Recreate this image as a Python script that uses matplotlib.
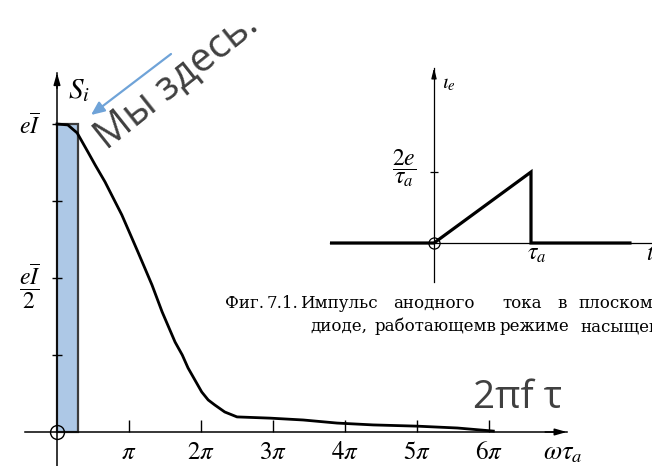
import matplotlib.pyplot as plt
import numpy as np

plt.rcParams['mathtext.fontset'] = 'stix'
plt.rcParams['font.family'] = ['DejaVu Sans']

# спектр S_i (x в единицах pi, y в единицах eI)
wt = [0, 0.15, 0.28, 0.43, 0.53, 0.667, 0.78, 0.90, 1.01, 1.125, 1.22, 1.32, 1.46, 1.64, 1.74,
      1.82, 2.01, 2.10, 2.19, 2.33, 2.50, 2.96, 3.42, 3.89, 4.39, 5.00, 5.56, 6.06]
si = [1.0, 0.997, 0.971, 0.909, 0.867, 0.812, 0.76, 0.705, 0.646, 0.584, 0.532, 0.477, 0.39, 0.292, 0.25,
      0.208, 0.13, 0.104, 0.088, 0.065, 0.049, 0.045, 0.039, 0.029, 0.023, 0.019, 0.013, 0.003]
x_ticks = [1, 2, 3, 4, 5, 6]
x_labels = [r'$\pi$', r'$2\pi$', r'$3\pi$', r'$4\pi$', r'$5\pi$', r'$6\pi$']
y_ticks = [0.25, 0.5, 0.75, 1.0]
y_labels = ['', r'$\dfrac{e\overline{I}}{2}$', '', r'$e\overline{I}$']
band_width = 0.29  # "Мы здесь"

# импульс анодного тока (t в единицах tau_a, i в единицах e/tau_a)
t_pulse = [-1.07, 0, 1, 1, 2.02]
i_pulse = [0, 0, 2, 0, 0]

caption1 = ['Фиг.', '7.1.', 'Импульс', 'анодного', 'тока', 'в', 'плоском']
caption2 = ['диоде,', 'работающемв', 'режиме', 'насыщения']

W, H = 652, 466
fig = plt.figure(figsize=(W / 100, H / 100), dpi=100)


def fx(px):
    return px / W


def fy(py):
    return 1 - py / H


# --- основной график ---
x0, sx = 57, 72
y0, sy = 432, 308
xl = (-0.45, 7.08)
yl = (-0.11, 1.166)
ax = fig.add_axes([fx(x0 + sx * xl[0]), fy(y0 - sy * yl[0]),
                   (xl[1] - xl[0]) * sx / W, (yl[1] - yl[0]) * sy / H])
ax.set_xlim(*xl)
ax.set_ylim(*yl)
ax.patch.set_alpha(0)
for s in ['top', 'right']:
    ax.spines[s].set_visible(False)
ax.spines['left'].set_position(('data', 0))
ax.spines['bottom'].set_position(('data', 0))
ax.spines['left'].set_linewidth(1.1)
ax.spines['bottom'].set_linewidth(1.1)

ax.bar([0], [si[0]], width=band_width, align='edge', color='#adc8e6',
       edgecolor='#3c3c3c', linewidth=1.6, zorder=1)
ax.plot(wt, si, color='k', lw=2.0, zorder=3, solid_joinstyle='round')
ax.plot([0], [0], 'o', ms=10, mfc='none', mec='k', mew=1.0, clip_on=False, zorder=4)

ax.set_xticks(x_ticks)
ax.set_xticklabels(x_labels, fontsize=18)
ax.tick_params(axis='x', direction='in', length=9, width=1.0, pad=6)
ax.set_yticks(y_ticks)
ax.set_yticklabels(y_labels, fontsize=17)
ax.tick_params(axis='y', direction='inout', length=7, width=1.0, pad=8)

ax.annotate('', xy=(xl[1], 0), xytext=(xl[1] - 0.3, 0),
            arrowprops=dict(arrowstyle='-|>,head_length=0.7,head_width=0.2', color='k', lw=1.1,
                            shrinkA=0, shrinkB=0))
ax.annotate('', xy=(0, yl[1]), xytext=(0, yl[1] - 0.05),
            arrowprops=dict(arrowstyle='-|>,head_length=0.7,head_width=0.2', color='k', lw=1.1,
                            shrinkA=0, shrinkB=0))
ax.text(0.3, 1.11, r'$S_i$', fontsize=21, ha='center', va='center')
ax.text(7.02, -0.065, r'$\omega\tau_a$', fontsize=19, ha='center', va='center', clip_on=False)

# --- вставка: импульс ---
ox, osx = 434, 97
oy, osy = 243, 35.5
txl = (-1.07, 2.4)
tyl = (-1.10, 4.93)
axi = fig.add_axes([fx(ox + osx * txl[0]), fy(oy - osy * tyl[0]),
                    (txl[1] - txl[0]) * osx / W, (tyl[1] - tyl[0]) * osy / H])
axi.set_xlim(*txl)
axi.set_ylim(*tyl)
axi.patch.set_alpha(0)
for s in ['top', 'right']:
    axi.spines[s].set_visible(False)
axi.spines['left'].set_position(('data', 0))
axi.spines['bottom'].set_position(('data', 0))
axi.spines['left'].set_linewidth(0.9)
axi.spines['bottom'].set_linewidth(0.9)
axi.set_xticks([])
axi.set_yticks([2])
axi.set_yticklabels([''])
axi.tick_params(axis='y', direction='inout', length=6, width=0.9)
axi.plot(t_pulse, i_pulse, color='k', lw=2.3, solid_joinstyle='miter')
axi.plot([0], [0], 'o', ms=8, mfc='none', mec='k', mew=0.9, zorder=4)
axi.annotate('', xy=(0, tyl[1]), xytext=(0, tyl[1] - 0.3),
             arrowprops=dict(arrowstyle='-|>,head_length=0.6,head_width=0.15', color='k', lw=0.9,
                             shrinkA=0, shrinkB=0))
axi.text(0.15, 4.5, r'$\iota_e$', fontsize=15, ha='center', va='center')
axi.text(-0.31, 2.11, r'$\dfrac{2e}{\tau_a}$', fontsize=17, ha='center', va='center')
axi.text(1.06, -0.27, r'$\tau_a$', fontsize=17, ha='center', va='center')
axi.text(2.23, -0.27, r'$t$', fontsize=17, ha='center', va='center')

# --- подпись ---
xs1 = [225, 267, 300, 393, 502, 557, 578]
xs2 = [310, 375, 500, 580]
for w, x in zip(caption1, xs1):
    fig.text(fx(x), fy(308), w, fontsize=12, family='DejaVu Serif', ha='left', va='baseline')
for w, x in zip(caption2, xs2):
    fig.text(fx(x), fy(331), w, fontsize=12, family='DejaVu Serif', ha='left', va='baseline')

# --- пометки ---
fig.text(fx(106), fy(150), 'Мы здесь.', fontsize=29, family='Open Sans', color='#404040',
         rotation=38.5, rotation_mode='anchor', ha='left', va='baseline')
fig.text(fx(518), fy(398), '2πf τ', fontsize=28, family='Open Sans', color='#404040',
         ha='center', va='center')
ax.annotate('', xy=(fx(91), fy(115)), xytext=(fx(171), fy(54)), xycoords='figure fraction',
            textcoords='figure fraction',
            arrowprops=dict(arrowstyle='-|>,head_length=0.8,head_width=0.35', color='#6fa3d8', lw=1.6,
                            shrinkA=0, shrinkB=0))

plt.savefig('out.png', dpi=100)
